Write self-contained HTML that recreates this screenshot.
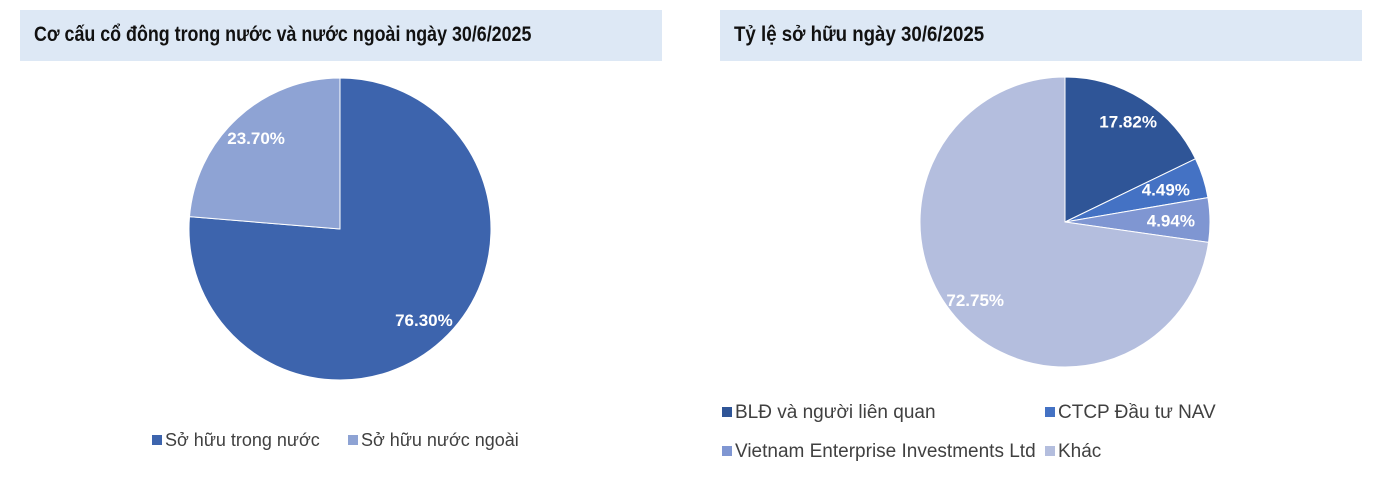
<!DOCTYPE html>
<html><head><meta charset="utf-8">
<style>
body{margin:0;width:1387px;height:496px;background:#fff;overflow:hidden;font-family:"Liberation Sans",sans-serif;}
.hdr{position:absolute;top:10px;height:51px;width:642px;background:#dde8f5;}
.hdr span{position:absolute;left:14px;top:13px;font-family:"Liberation Sans",sans-serif;font-weight:bold;font-size:21px;color:#111;transform-origin:0 0;white-space:nowrap;}
svg{position:absolute;left:0;top:0;}
.lg{position:absolute;font-size:19px;color:#404040;white-space:nowrap;}
.lg i{display:inline-block;width:10px;height:10px;margin-right:3px;vertical-align:1px;}
</style></head><body>
<div class="hdr" style="left:20px"><span style="transform:scaleX(0.85)">Cơ cấu cổ đông trong nước và nước ngoài ngày 30/6/2025</span></div>
<div class="hdr" style="left:720px"><span style="transform:scaleX(0.89)">Tỷ lệ sở hữu ngày 30/6/2025</span></div>
<svg id="s" width="1387" height="496"></svg>
<div class="lg" style="left:152px;top:430px;font-size:18px"><i style="background:#3d64ad"></i>Sở hữu trong nước</div>
<div class="lg" style="left:348px;top:430px;font-size:18px"><i style="background:#8ea3d4"></i>Sở hữu nước ngoài</div>
<div class="lg" style="left:722px;top:402px"><i style="background:#2f5597"></i>BLĐ và người liên quan</div>
<div class="lg" style="left:1045px;top:402px"><i style="background:#4472c4"></i>CTCP Đầu tư NAV</div>
<div class="lg" style="left:722px;top:441px"><i style="background:#7f96d2"></i>Vietnam Enterprise Investments Ltd</div>
<div class="lg" style="left:1045px;top:441px"><i style="background:#b4bede"></i>Khác</div>
<script>
const pie1Labels=["Sở hữu trong nước","Sở hữu nước ngoài"];
const pie1Values=[76.30,23.70];
const pie2Labels=["BLĐ và người liên quan","CTCP Đầu tư NAV","Vietnam Enterprise Investments Ltd","Khác"];
const pie2Values=[17.82,4.49,4.94,72.75];
const NS="http://www.w3.org/2000/svg";
const svg=document.getElementById('s');
function pie(cx,cy,r,vals,cols,names){
  const tot=vals.reduce((a,b)=>a+b,0);let a0=0;
  vals.forEach((v,i)=>{
    const a1=a0+v/tot*2*Math.PI;
    const p=(a)=>[cx+r*Math.sin(a),cy-r*Math.cos(a)];
    const [x0,y0]=p(a0),[x1,y1]=p(a1);
    const path=document.createElementNS(NS,'path');
    path.setAttribute('d',`M${cx},${cy}L${x0},${y0}A${r},${r} 0 ${a1-a0>Math.PI?1:0} 1 ${x1},${y1}Z`);
    path.setAttribute('fill',cols[i]);path.setAttribute('stroke','#fff');path.setAttribute('stroke-width','1');
    
    
    svg.appendChild(path);
    const m=(a0+a1)/2,lr=r*(v<10?0.73:0.82);
    const t=document.createElementNS(NS,'text');
    t.setAttribute('x',cx+lr*Math.sin(m));t.setAttribute('y',cy-lr*Math.cos(m)+6);
    t.setAttribute('text-anchor','middle');t.setAttribute('fill','#fff');
    t.setAttribute('font-family','Liberation Sans, sans-serif');t.setAttribute('font-weight','bold');t.setAttribute('font-size','17');
    t.textContent=v.toFixed(2)+'%';
    
    
    svg.appendChild(t);
    a0=a1;
  });
}
pie(340,229,151,pie1Values,["#3d64ad","#8ea3d4"],["domestic","foreign"]);
pie(1065,222,145,pie2Values,["#2f5597","#4472c4","#7f96d2","#b4bede"],["bld","nav","vei","other"]);
</script>
</body></html>
